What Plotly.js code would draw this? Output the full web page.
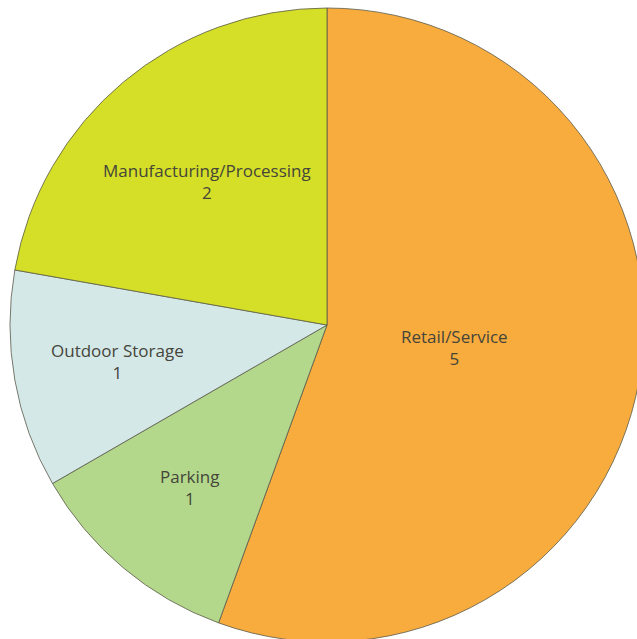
<!DOCTYPE html>
<html>
<head>
<meta charset="utf-8">
<script src="https://cdn.plot.ly/plotly-3.0.1.min.js"></script>
<style>
html,body{margin:0;padding:0;overflow:hidden;background:#fff;}
#chart{width:654px;height:654px;}
</style>
</head>
<body>
<div id="chart"></div>
<script>
const labels = ["Retail/Service", "Parking", "Outdoor Storage", "Manufacturing/Processing"];
const values = [5, 1, 1, 2];
const colors = ["#F9AC3E", "#B4D88B", "#D4E8E8", "#D5DF27"];

const W = 654, H = 654;
const cx = 327, cy = 325, r = 317;
// distance of each label from the centre, as a fraction of the radius (style)
const labelDist = [0.41, 0.67, 0.67, 0.59];

const total = values.reduce((a, b) => a + b, 0);
let cum = 0;
const annotations = labels.map((lab, i) => {
  const mid = (cum + values[i] / 2) / total * 2 * Math.PI;
  cum += values[i];
  const d = labelDist[i] * r;
  const sx = cx + d * Math.sin(mid);
  const sy = cy - d * Math.cos(mid);
  return {
    xref: "paper", yref: "paper",
    x: sx / W, y: (H - sy) / H,
    xanchor: "center", yanchor: "middle",
    text: lab + "<br>" + values[i],
    showarrow: false,
    font: {family: "Open Sans, sans-serif", size: 17, color: "#45453a"}
  };
});

Plotly.newPlot("chart", [{
  type: "pie",
  labels: labels,
  values: values,
  sort: false,
  direction: "clockwise",
  rotation: 0,
  marker: {colors: colors, line: {color: "#5a5a4a", width: 0.8}},
  textinfo: "none",
  hoverinfo: "label+value",
  domain: {x: [(cx - r) / W, (cx + r) / W], y: [(H - cy - r) / H, (H - cy + r) / H]}
}], {
  width: W, height: H,
  margin: {l: 0, r: 0, t: 0, b: 0},
  showlegend: false,
  paper_bgcolor: "#fff",
  annotations: annotations
}, {displayModeBar: false, staticPlot: true});
</script>
</body>
</html>
